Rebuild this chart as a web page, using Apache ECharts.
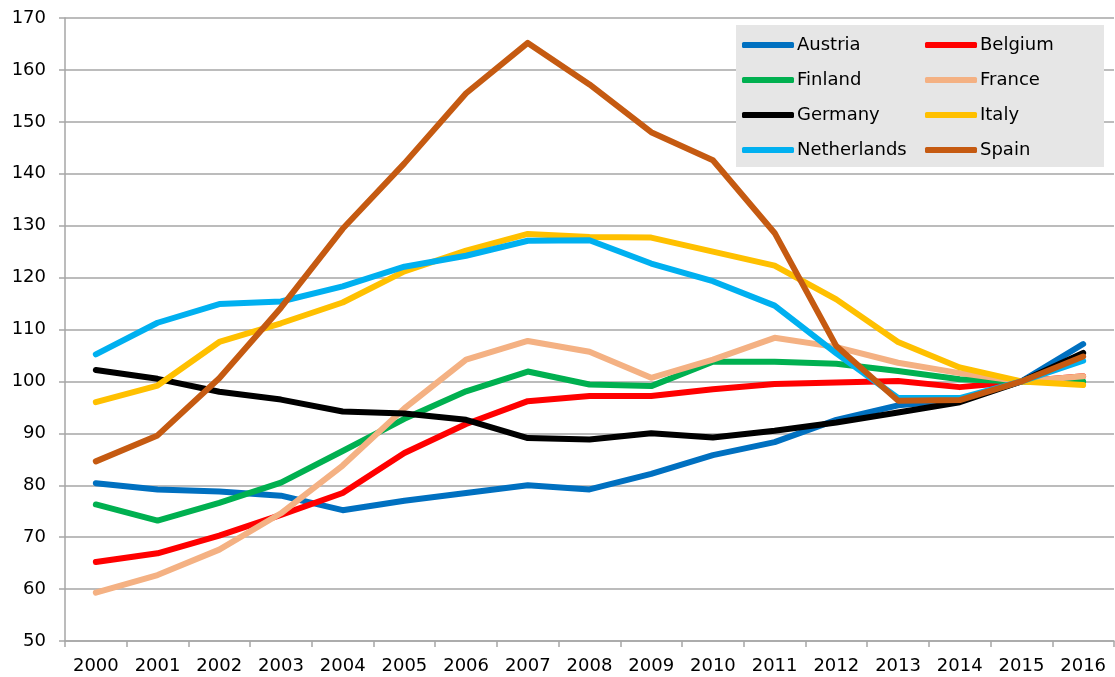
<!DOCTYPE html>
<html>
<head>
<meta charset="utf-8">
<script src="https://cdn.jsdelivr.net/npm/echarts@6/dist/echarts.min.js"></script>
<style>
html, body { margin: 0; padding: 0; background: #fff; }
#main { width: 1115px; height: 677px; }
</style>
</head>
<body>
<div id="main"></div>
<script>
var years = ['2000', '2001', '2002', '2003', '2004', '2005', '2006', '2007', '2008', '2009', '2010', '2011', '2012', '2013', '2014', '2015', '2016'];

var austria = [80.4, 79.2, 78.8, 78.0, 75.2, 77.0, 78.5, 80.0, 79.2, 82.2, 85.8, 88.3, 92.6, 95.4, 96.4, 100, 107.2];
var belgium = [65.2, 66.9, 70.3, 74.3, 78.5, 86.2, 91.8, 96.2, 97.2, 97.2, 98.5, 99.5, 99.8, 100.1, 98.9, 100, 101.0];
var finland = [76.3, 73.2, 76.6, 80.5, 86.6, 92.8, 98.1, 101.9, 99.4, 99.1, 103.8, 103.8, 103.4, 102.0, 100.4, 100, 100.0];
var france = [59.3, 62.7, 67.6, 74.6, 83.8, 94.8, 104.2, 107.8, 105.7, 100.7, 104.2, 108.4, 106.6, 103.6, 101.6, 100, 101.0];
var germany = [102.2, 100.5, 98.0, 96.5, 94.2, 93.8, 92.6, 89.1, 88.8, 90.0, 89.2, 90.5, 92.1, 94.0, 96.0, 100, 105.5];
var italy = [96.0, 99.2, 107.6, 111.2, 115.2, 121.2, 125.2, 128.4, 127.8, 127.7, 125.0, 122.3, 115.8, 107.6, 102.7, 100, 99.3];
var netherlands = [105.2, 111.3, 114.9, 115.4, 118.3, 122.1, 124.2, 127.1, 127.2, 122.7, 119.3, 114.6, 105.4, 96.8, 96.8, 100, 104.0];
var spain = [84.6, 89.6, 100.6, 114.2, 129.4, 142.0, 155.5, 165.2, 157.2, 148.0, 142.6, 128.6, 106.8, 96.3, 96.4, 100, 104.8];

var names = ['Austria', 'Belgium', 'Finland', 'France', 'Germany', 'Italy', 'Netherlands', 'Spain'];
var values = [austria, belgium, finland, france, germany, italy, netherlands, spain];
var colors = ['#0070C0', '#FF0000', '#00B050', '#F4B183', '#000000', '#FFC000', '#00B0F0', '#C55A11'];

var font = 'DejaVu Sans';

var dom = document.getElementById('main');
var myChart = echarts.init(dom, null, { renderer: 'canvas' });

var series = names.map(function (n, i) {
    return {
        name: n,
        type: 'line',
        data: values[i],
        showSymbol: false,
        symbol: 'none',
        lineStyle: { width: 6, color: colors[i], cap: 'round', join: 'round' },
        itemStyle: { color: colors[i] },
        emphasis: { disabled: true }
    };
});

var legendBase = {
    orient: 'vertical',
    top: 35,
    padding: 0,
    itemGap: 15,
    itemWidth: 52,
    itemHeight: 6,
    icon: 'roundRect',
    z: 10,
    textStyle: { fontFamily: font, fontSize: 18, color: '#000', lineHeight: 20, padding: [0, 0, 0, -2] }
};

var option = {
    animation: false,
    color: colors,
    grid: { left: 65, right: 1, top: 18, bottom: 36, containLabel: false },
    graphic: [{
        type: 'rect',
        z: 5,
        shape: { x: 736, y: 25, width: 368, height: 142 },
        style: { fill: '#e6e6e6' }
    }],
    legend: [
        Object.assign({}, legendBase, { left: 742, data: ['Austria', 'Finland', 'Germany', 'Netherlands'] }),
        Object.assign({}, legendBase, { left: 925, data: ['Belgium', 'France', 'Italy', 'Spain'] })
    ],
    xAxis: {
        type: 'category',
        data: years,
        boundaryGap: true,
        axisLine: { lineStyle: { color: '#a6a6a6', width: 1.5 } },
        axisTick: { show: true, length: 6, lineStyle: { color: '#a6a6a6', width: 1.5 } },
        axisLabel: { fontFamily: font, fontSize: 18, color: '#000', margin: 16 },
        splitLine: { show: false }
    },
    yAxis: {
        type: 'value',
        min: 50,
        max: 170,
        interval: 10,
        axisLine: { show: true, lineStyle: { color: '#a6a6a6', width: 1.5 } },
        axisTick: { show: true, length: 6, lineStyle: { color: '#a6a6a6', width: 1.5 } },
        axisLabel: { fontFamily: font, fontSize: 18, color: '#000', margin: 19 },
        splitLine: { show: true, lineStyle: { color: '#a6a6a6', width: 1.5 } }
    },
    series: series
};

myChart.setOption(option);
window.addEventListener('resize', myChart.resize);
</script>
</body>
</html>
